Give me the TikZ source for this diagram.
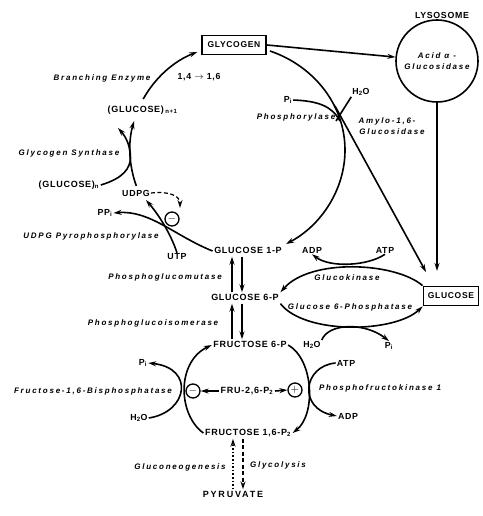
\documentclass[tikz,border=0pt]{standalone}
\usepackage{fontspec}
\setmainfont{Liberation Sans}
\newfontfamily\capf[LetterSpace=8]{Liberation Sans}
\newfontfamily\widef[LetterSpace=20]{Liberation Sans}
\newfontfamily\enzf[LetterSpace=22]{Liberation Sans}
\usetikzlibrary{arrows.meta}
\begin{document}
\begin{tikzpicture}[x=1pt,y=-1pt,
  lab/.style={font=\capf\bfseries\fontsize{9}{10}\selectfont, inner sep=1.5pt, text height=6.5pt, text depth=1.5pt},
  sm/.style={font=\capf\bfseries\fontsize{8.8}{9}\selectfont, inner sep=1pt},
  enz/.style={font=\enzf\bfseries\itshape\fontsize{8}{9}\selectfont, inner sep=1pt},
  boxed/.style={draw, line width=1.8pt, inner sep=3pt, font=\capf\bfseries\fontsize{8.5}{9}\selectfont},
  sign/.style={circle, draw, line width=1.3pt, minimum size=14pt, inner sep=0pt, font=\bfseries\fontsize{11}{11}\selectfont},
  ln/.style={line width=1.6pt},
  arr/.style={ln, -{Stealth[length=8pt,width=5pt]}},
  dots/.style={arr, dash pattern=on 1.6pt off 2pt},
  dsh/.style={arr, dash pattern=on 4pt off 2.5pt}]
\useasboundingbox (0,0) rectangle (482,516);

% ---------- nodes ----------
\node[boxed, minimum width=64pt, minimum height=19pt] (glycogen) at (234,45) {GLYCOGEN};
\node[sm] (lysolab) at (442,15) {LYSOSOME};
\node[circle, draw, ln, minimum size=82pt, inner sep=0pt, enz, align=center] (lyso) at (437,61) {Acid α -\\[2pt]Glucosidase};
\node[boxed, minimum width=55pt, minimum height=19pt] (glucose) at (451,296) {GLUCOSE};

\node[enz] (branch) at (102,78) {Branching Enzyme};
\node[sm] (bond) at (199,77) {1,4 $\rightarrow$ 1,6};
\node[lab, anchor=west] (gn1) at (106,110) {(GLUCOSE)\,\textsubscript{n+1}};
\node[enz] (gsyn) at (69,153) {Glycogen Synthase};
\node[lab, anchor=west] (gn) at (37,185) {(GLUCOSE)\textsubscript{n}};
\node[sm] (udpg) at (136,193) {UDPG};
\node[sign] (minus1) at (172,219) {$-$};
\node[sm] (ppi) at (105,213) {PP\textsubscript{i}};
\node[enz] (udpgpp) at (91,236) {UDPG Pyrophosphorylase};
\node[sm] (utp) at (177,257) {UTP};

\node[sm] (pitop) at (288,100) {P\textsubscript{i}};
\node[sm] (h2otop) at (361,92) {H\textsubscript{2}O};
\node[enz] (phos) at (296,117) {Phosphorylase};
\node[enz, align=center] (amylo) at (387,126) {Amylo-1,6-\\[2pt]\hspace{10pt}Glucosidase};

\node[lab] (g1p) at (248,251) {GLUCOSE 1-P};
\node[enz] (pgm) at (165,277) {Phosphoglucomutase};
\node[lab] (g6p) at (245,298) {GLUCOSE 6-P};
\node[enz] (pgi) at (153,323) {Phosphoglucoisomerase};

\node[sm] (adp1) at (312,250) {ADP};
\node[sm] (atp1) at (385,250) {ATP};
\node[enz] (gk) at (347,278) {Glucokinase};
\node[enz] (g6pase) at (350,307) {Glucose 6-Phosphatase};
\node[sm] (h2o1) at (312,345) {H\textsubscript{2}O};
\node[sm] (pi1) at (389,346) {P\textsubscript{i}};

\node[lab] (f6p) at (250,345) {FRUCTOSE 6-P};
\node[lab] (fru26) at (247,391) {FRU-2,6-P\textsubscript{2}};
\node[sign] (minus2) at (193,391) {$-$};
\node[sign] (plus) at (295,390) {$+$};
\node[lab] (f16) at (248,433) {FRUCTOSE 1,6-P\textsubscript{2}};
\node[enz] (fbpase) at (93,391) {Fructose-1,6-Bisphosphatase};
\node[sm] (pileft) at (143,363) {P\textsubscript{i}};
\node[sm] (h2oleft) at (139,418) {H\textsubscript{2}O};
\node[sm] (atpr) at (346,363) {ATP};
\node[sm] (adpr) at (348,416) {ADP};
\node[enz] (pfk) at (380,388) {Phosphofructokinase 1};

\node[enz] (gneo) at (180,467) {Gluconeogenesis};
\node[enz] (glyc) at (278,465) {Glycolysis};
\node[lab, font=\widef\bfseries\fontsize{9}{10}\selectfont] (pyr) at (233,495) {PYRUVATE};

% ---------- helper coordinates ----------
\coordinate (cc) at (235,150);
\coordinate (colA) at (232,0);
\coordinate (colB) at (242,0);
\coordinate (colC) at (233,0);
\coordinate (colD) at (243,0);
\coordinate (gstart) at (270,51);
\coordinate (rmid) at (345,150);
\coordinate (g1pend) at (286,244);
\coordinate (amyStart) at (335,106);
\coordinate (amyEnd) at (426,272);
\coordinate (lysoEnd) at (437,271);

% ---------- glycogen cycle ----------
\draw[arr] (cc) ++(209:105) arc[start angle=209, end angle=249, radius=105];
\draw[arr] (cc) ++(160:105) arc[start angle=160, end angle=196, radius=105];
\draw[ln] (gstart) .. controls (314,66) and (345,105) .. (rmid);
\draw[arr] (rmid) .. controls (345,190) and (320.6,225.8) .. (g1pend);
\draw[arr] (amyStart) -- (amyEnd);
\draw[ln] (pitop.east) .. controls (318,101) and (332,106) .. (340,121);
\draw[ln] (h2otop.south west) -- (336,121);

% (glucose)n side reaction
\draw[ln] (gn.east) .. controls (124,178) and (130,168) .. (130.5,158);
\draw[arr] (130.5,158) .. controls (130.5,146) and (126,137) .. (118,128);

% UDPG pyrophosphorylase crossing
\draw[arr] (g1p.west) .. controls (175,236) and (150,210) .. (ppi.east);
\draw[arr] (utp.north) .. controls (170,232) and (158,214) .. (146,200);
\draw[dsh, line width=1.2pt] (udpg.east) .. controls (170,191) and (180,196) .. (180,208);

% phosphoglucomutase / isomerase
\draw[arr] (g6p.north -| colA) -- (g1p.south -| colA);
\draw[arr] (g1p.south -| colB) -- (g6p.north -| colB);
\draw[arr] (f6p.north -| colA) -- (g6p.south -| colA);
\draw[arr] (g6p.south -| colB) -- (f6p.north -| colB);

% lysosome
\draw[arr] (glycogen.east) -- (lyso);
\draw[arr] (lyso.south) -- (lysoEnd);

% glucokinase / glucose 6-phosphatase
\draw[arr] (glucose.north west) .. controls (395,262) and (310,258) .. (g6p.north east);
\draw[arr] (atp1.south) .. controls (368,266) and (330,268) .. (adp1.south);
\draw[arr] (g6p.south east) .. controls (305,335) and (395,333) .. (glucose.south west);
\draw[arr] (h2o1.north east) .. controls (328,323) and (365,322) .. (pi1.north);

% fructose cycle
\draw[arr] (f16.west) .. controls (178,415) and (176,362) .. (f6p.west);
\draw[arr] (h2oleft.east) .. controls (188,412) and (195,368) .. (pileft.east);
\draw[arr] (f6p.east) .. controls (314,360) and (316,415) .. (f16.east);
\draw[arr] (atpr.west) .. controls (303,366) and (298,408) .. (adpr.west);
\draw[arr] (fru26.west) -- (minus2.east);
\draw[arr] (fru26.east) -- (plus.west);

% glycolysis / gluconeogenesis
\draw[dots] (pyr.north -| colC) -- (f16.south -| colC);
\draw[dsh] (f16.south -| colD) -- (pyr.north -| colD);
\end{tikzpicture}
\end{document}
